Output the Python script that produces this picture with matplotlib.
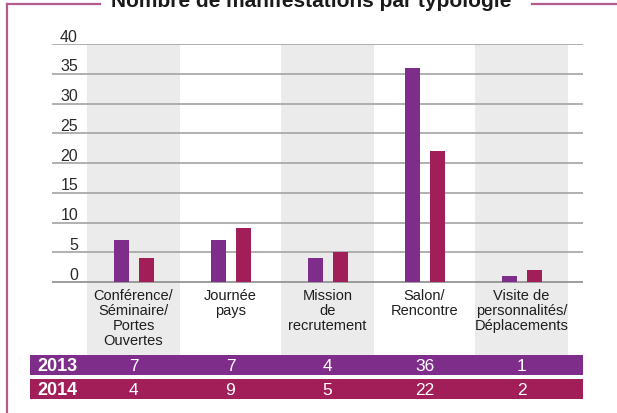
import matplotlib
matplotlib.use('Agg')
import matplotlib.pyplot as plt
from matplotlib.lines import Line2D

categories = ['Conférence/\nSéminaire/\nPortes\nOuvertes', 'Journée\npays',
              'Mission\nde\nrecrutement', 'Salon/\nRencontre',
              'Visite de\npersonnalités/\nDéplacements']
years = ['2013', '2014']
v2013 = [7, 7, 4, 36, 1]
v2014 = [4, 9, 5, 22, 2]
yticks = [0, 5, 10, 15, 20, 25, 30, 35, 40]
title = 'Nombre de manifestations par typologie'

purple = '#7f2d8a'
crimson = '#a11e58'
frame_col = '#b55a8c'
band_col = '#ebebeb'
grid_col = '#a3a3a3'
font = 'Liberation Sans'

W, H = 617, 414
fig = plt.figure(figsize=(W / 100, H / 100), dpi=100)


def box(x0, y0, x1, y1):
    # pixel box (from top-left) -> figure fraction rect
    return [x0 / W, 1 - y1 / H, (x1 - x0) / W, (y1 - y0) / H]


# category spacing in pixels, first centre
step, c0 = 97.0, 133.5
ax = fig.add_axes(box(52, 45, 583, 356))
ax.set_xlim((52 - c0) / step, (583 - c0) / step)
px_per_unit = (283 - 45) / 40.0
ax.set_ylim(-(356 - 283) / px_per_unit, 40)
ax.axis('off')

x = list(range(len(categories)))
for i in x:
    if i % 2 == 0:
        ax.axvspan(i - 0.48, i + 0.48, color=band_col, lw=0, zorder=0)

for t in yticks:
    ax.axhline(t, color=grid_col if t else '#8c8c8c', lw=1.2, zorder=1)
    ax.text((78 - c0) / step, t + 0.05, str(t), ha='right', va='bottom',
            fontsize=11.5, color='#2a2a2a', family=font, zorder=3)

bw = 15 / step
off = 12.5 / step
ax.bar([i - off for i in x], v2013, width=bw, color=purple, zorder=2)
ax.bar([i + off for i in x], v2014, width=bw, color=crimson, zorder=2)

for i, lab in enumerate(categories):
    ax.text(i, -(289 - 283) / px_per_unit, lab, ha='center', va='top',
            fontsize=10.5, linespacing=1.08, color='#1e1e1e', family=font)

# value table
tb = fig.add_axes(box(30, 356, 583, 400))
tb.set_xlim((30 - c0) / step, (583 - c0) / step)
tb.set_ylim(44, 0)
tb.axis('off')
rows = [(v2013, purple, 0, 19.5), (v2014, crimson, 24, 43.5)]
for yr, (vals, col, y0, y1) in zip(years, rows):
    tb.axhspan(y0, y1, color=col, lw=0)
    ym = (y0 + y1) / 2
    tb.text((37 - c0) / step, ym + 0.5, yr, ha='left', va='center', color='white',
            fontsize=13, fontweight='bold', family=font)
    for i, v in enumerate(vals):
        tb.text(i, ym + 0.5, str(v), ha='center', va='center', color='white',
                fontsize=12.5, family=font)

# frame around the chart
fig.add_artist(Line2D([7 / W, 7 / W], [0, 1 - 5 / H], color=frame_col, lw=1.6))
fig.add_artist(Line2D([7 / W, 100 / W], [1 - 5 / H, 1 - 5 / H], color=frame_col, lw=1.6))
fig.add_artist(Line2D([532 / W, 1], [1 - 5 / H, 1 - 5 / H], color=frame_col, lw=1.6))
fig.text(311 / W, 1 - 7 / H, title, ha='center', va='baseline', fontsize=15,
         fontweight='bold', color='#1a1a1a', family=font)

fig.savefig('out.png', dpi=100)
